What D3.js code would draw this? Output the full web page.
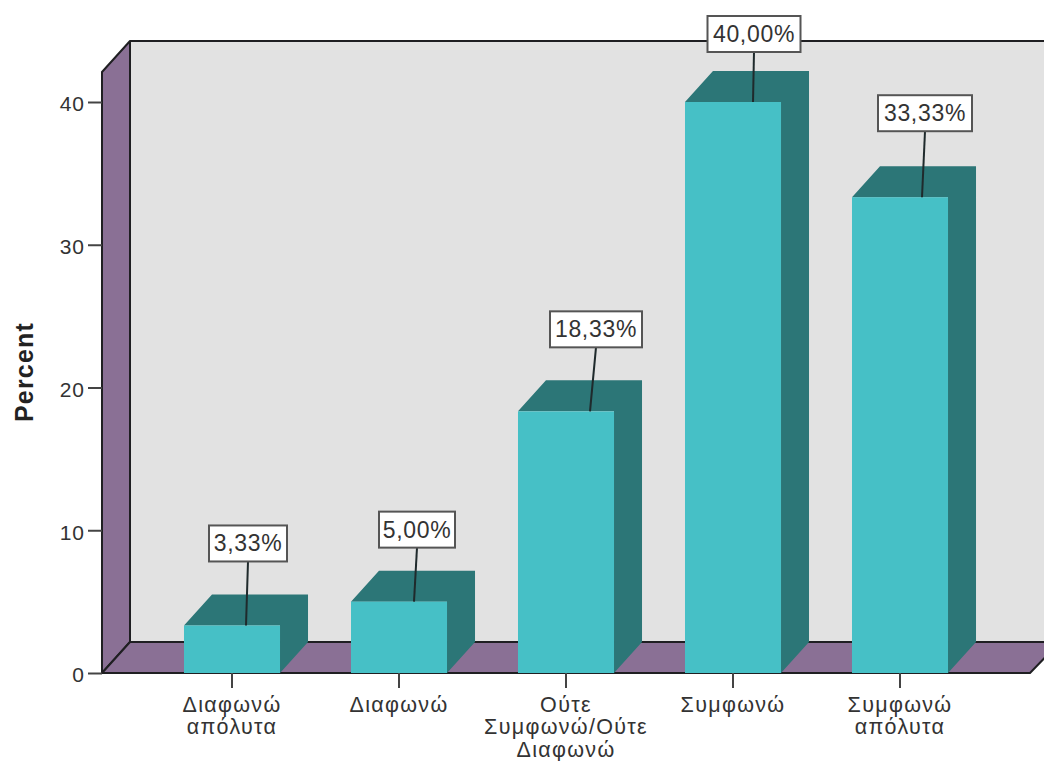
<!DOCTYPE html>
<html>
<head>
<meta charset="utf-8">
<script src="https://cdn.jsdelivr.net/npm/d3@7"></script>
<style>
  html, body { margin: 0; padding: 0; background: #fff; }
  svg { display: block; }
  text { font-family: "Liberation Sans", Arial, sans-serif; }
</style>
</head>
<body>
<svg id="chart" width="1044" height="761"></svg>
<script>
// Responses on the agreement scale, as percentages
const categories = ["Διαφωνώ απόλυτα", "Διαφωνώ", "Ούτε Συμφωνώ/Ούτε Διαφωνώ", "Συμφωνώ", "Συμφωνώ απόλυτα"];
const percents = [3.33, 5.0, 18.33, 40.0, 33.33];
const valueLabels = ["3,33%", "5,00%", "18,33%", "40,00%", "33,33%"];
const categoryLines = [["Διαφωνώ", "απόλυτα"], ["Διαφωνώ"], ["Ούτε", "Συμφωνώ/Ούτε", "Διαφωνώ"], ["Συμφωνώ"], ["Συμφωνώ", "απόλυτα"]];
const yTicks = [0, 10, 20, 30, 40];

const svg = d3.select("#chart");
const W = 1044;
const plot = { left: 102, right: 1030, floor: 673, top: 72 };
const depth = { x: 28, y: 31 };

const x = d3.scaleBand().domain(categories).range([148.5, 983.5]).paddingInner(0.425).paddingOuter(0.2125);
const y = d3.scaleLinear().domain([0, 40]).range([673, 102]);

const ink = "#1f1f22";
const poly = pts => pts.map(p => p.join(",")).join(" ");

// Back wall
svg.append("rect")
  .attr("x", plot.left + depth.x).attr("y", plot.top - depth.y)
  .attr("width", W - plot.left - depth.x + 40).attr("height", plot.floor - plot.top)
  .attr("fill", "#e2e2e2");

// Left wall and floor
svg.append("polygon")
  .attr("points", poly([[plot.left, plot.top], [plot.left + depth.x, plot.top - depth.y], [plot.left + depth.x, plot.floor - depth.y], [plot.left, plot.floor]]))
  .attr("fill", "#8a7095").attr("stroke", ink).attr("stroke-width", 2).attr("stroke-linejoin", "round");
svg.append("polygon")
  .attr("points", poly([[plot.left, plot.floor], [plot.left + depth.x, plot.floor - depth.y], [plot.right + depth.x + 2, plot.floor - depth.y], [plot.right, plot.floor]]))
  .attr("fill", "#8a7095").attr("stroke", ink).attr("stroke-width", 2).attr("stroke-linejoin", "round");

// Top edge of the back wall
svg.append("line")
  .attr("x1", plot.left + depth.x).attr("x2", W)
  .attr("y1", plot.top - depth.y).attr("y2", plot.top - depth.y)
  .attr("stroke", ink).attr("stroke-width", 2);

// Extruded bars: side and top faces first, then the front face
const bars = svg.append("g").selectAll("g").data(categories).join("g");
bars.append("polygon")
  .attr("fill", "#2c7677")
  .attr("points", (c, i) => {
    const l = x(c), r = l + x.bandwidth(), t = y(percents[i]), b = y(0);
    return poly([[l, t], [l + depth.x, t - depth.y], [r + depth.x, t - depth.y], [r + depth.x, b - depth.y], [r, b], [r, t]]);
  });
bars.append("rect")
  .attr("fill", "#46c0c6")
  .attr("x", c => x(c)).attr("width", x.bandwidth())
  .attr("y", (c, i) => y(percents[i]))
  .attr("height", (c, i) => y(0) - y(percents[i]));

// Y axis
const yAxis = svg.append("g")
  .attr("transform", `translate(${plot.left},0)`)
  .call(d3.axisLeft(y).tickValues(yTicks).tickSize(14).tickPadding(3).tickFormat(d3.format("d")));
yAxis.select(".domain").remove();
yAxis.selectAll("line").attr("stroke", "#444").attr("stroke-width", 2);
yAxis.selectAll("text").attr("font-size", 21).attr("letter-spacing", 1).attr("fill", "#333").attr("font-family", "Liberation Sans").attr("dy", "0.42em");

// X axis with wrapped category names
const xAxis = svg.append("g")
  .attr("transform", `translate(0,${plot.floor})`)
  .call(d3.axisBottom(x).tickSize(15).tickFormat(""));
xAxis.select(".domain").remove();
xAxis.selectAll("line").attr("stroke", "#444").attr("stroke-width", 2);
xAxis.selectAll("text").remove();
svg.append("g").selectAll("text").data(categories).join("text")
  .attr("text-anchor", "middle")
  .attr("font-size", 21.5).attr("letter-spacing", 1.3).attr("fill", "#333")
  .each(function (c, i) {
    d3.select(this).selectAll("tspan").data(categoryLines[i]).join("tspan")
      .attr("x", x(c) + x.bandwidth() / 2)
      .attr("y", (d, k) => 711.5 + k * 22.5)
      .text(d => d);
  });

// Axis title
svg.append("text")
  .attr("transform", "translate(33,372) rotate(-90)")
  .attr("text-anchor", "middle")
  .attr("font-size", 25).attr("letter-spacing", 1.2).attr("font-weight", "bold").attr("fill", "#222")
  .text("Percent");

// Callouts: each box sits above its bar and a leader line ties the two together
const calloutGap = [64, 54, 64, 50, 66];
const calloutShift = [16, 18, 30, 21, 25];
const calloutTilt = [2, 3, 6, 1, 3];
const calloutWidth = [78, 76, 92, 93, 94];
const calloutHeight = 36;

const callouts = svg.append("g").selectAll("g").data(categories).join("g");
callouts.each(function (c, i) {
  const g = d3.select(this);
  const anchorX = x(c) + x.bandwidth() / 2 + calloutShift[i] - calloutTilt[i];
  const anchorY = y(percents[i]);
  const topX = anchorX + calloutTilt[i];
  const boxBottom = anchorY - calloutGap[i];
  g.append("line")
    .attr("x1", anchorX).attr("y1", anchorY).attr("x2", topX).attr("y2", boxBottom)
    .attr("stroke", "#1f2a2c").attr("stroke-width", 2);
  g.append("rect")
    .attr("x", topX - calloutWidth[i] / 2).attr("y", boxBottom - calloutHeight)
    .attr("width", calloutWidth[i]).attr("height", calloutHeight)
    .attr("fill", "#fff").attr("stroke", "#555").attr("stroke-width", 2);
  g.append("text")
    .attr("x", topX).attr("y", boxBottom - calloutHeight / 2 + 8)
    .attr("text-anchor", "middle").attr("font-size", 23).attr("letter-spacing", 0.7).attr("fill", "#333")
    .text(valueLabels[i]);
});
</script>
</body>
</html>
